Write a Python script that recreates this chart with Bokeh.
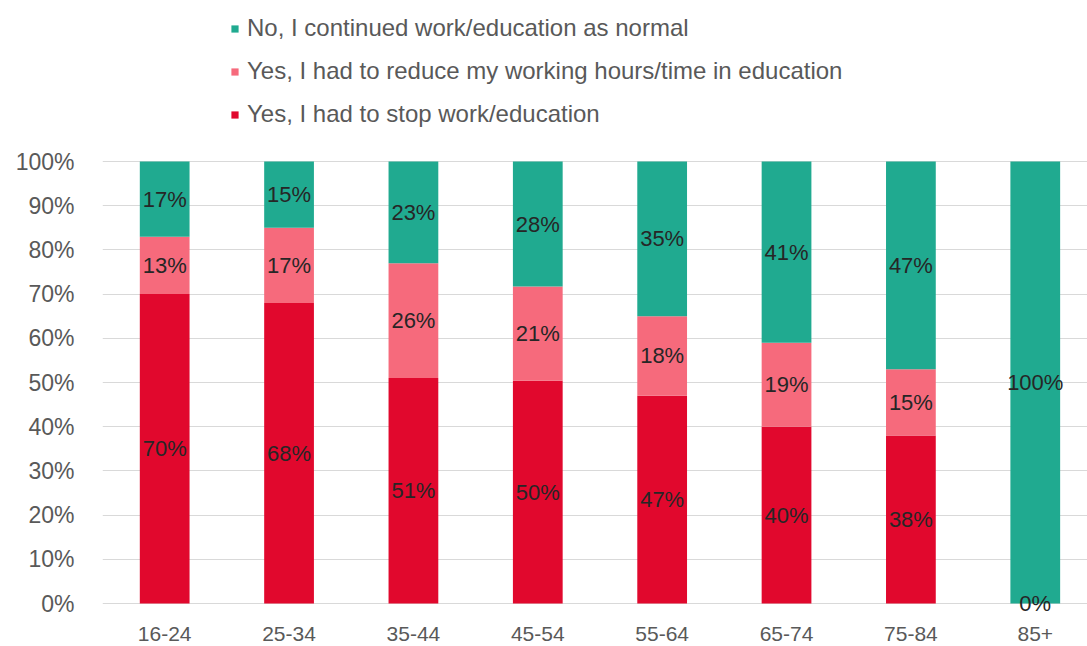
from bokeh.plotting import figure
from bokeh.models import (ColumnDataSource, Range1d, FixedTicker, Legend, LegendItem,
                          NumeralTickFormatter, LabelSet)
from bokeh.core.properties import value
from bokeh.embed import file_html
from bokeh.resources import INLINE

# Age groups and share of respondents (%) in each answer
age_groups = ["16-24", "25-34", "35-44", "45-54", "55-64", "65-74", "75-84", "85+"]
stopped = [70, 68, 51, 50.4, 47, 40, 38, 0]
reduced = [13, 17, 26, 21.3, 18, 19, 15, 0]
continued = [17, 15, 23, 28.3, 35, 41, 47, 100]

series_names = [
    "No, I continued work/education as normal",
    "Yes, I had to reduce my working hours/time in education",
    "Yes, I had to stop work/education",
]
colors = {"stop": "#e1082d", "reduce": "#f66a7c", "cont": "#20aa90"}

FONT = "Liberation Sans"
x = list(range(len(age_groups)))

s_stop = [v / 100 for v in stopped]
s_red = [v / 100 for v in reduced]
s_cont = [v / 100 for v in continued]

bot_stop = [0.0] * len(x)
top_stop = s_stop
bot_red = top_stop
top_red = [a + b for a, b in zip(bot_red, s_red)]
bot_cont = top_red
top_cont = [a + b for a, b in zip(bot_cont, s_cont)]

src = ColumnDataSource(dict(
    x=x,
    bot_stop=bot_stop, top_stop=top_stop,
    bot_red=bot_red, top_red=top_red,
    bot_cont=bot_cont, top_cont=top_cont,
))

# The frame spans nearly the full height so the legend can sit above the 100% line
# and the zero label below the baseline stays visible
PX = 442.0          # pixels per 100%
y0 = -11 / PX
y1 = y0 + 614 / PX
p = figure(width=1087, height=646, output_backend="svg", toolbar_location=None,
           x_range=Range1d(-0.5, 7.42), y_range=Range1d(y0, y1),
           min_border_left=102, min_border_right=0, min_border_top=0,
           min_border_bottom=32)
p.outline_line_color = None
p.background_fill_color = "white"
p.border_fill_color = "white"

W = 0.40
r_stop = p.vbar(x="x", bottom="bot_stop", top="top_stop", width=W, source=src,
                fill_color=colors["stop"], line_color=None)
r_red = p.vbar(x="x", bottom="bot_red", top="top_red", width=W, source=src,
               fill_color=colors["reduce"], line_color=None)
r_cont = p.vbar(x="x", bottom="bot_cont", top="top_cont", width=W, source=src,
                fill_color=colors["cont"], line_color=None)

# Value labels centred on each segment
def seg_labels(vals, bottoms, keep_zero):
    xs, ys, txt = [], [], []
    for i, (v, b) in enumerate(zip(vals, bottoms)):
        if v > 0 or keep_zero:
            xs.append(x[i])
            ys.append(b + v / 200)
            txt.append(f"{round(v)}%")
    return ColumnDataSource(dict(x=xs, y=ys, t=txt))

for vals, bottoms, keep in [(stopped, bot_stop, True), (reduced, bot_red, False),
                            (continued, bot_cont, False)]:
    ls = LabelSet(x="x", y="y", text="t", source=seg_labels(vals, bottoms, keep),
                  text_align="center", text_baseline="middle",
                  text_font=value(FONT), text_font_size="22px", text_color="#262626",
                  level="overlay")
    p.add_layout(ls)

# Axes
p.yaxis.ticker = FixedTicker(ticks=[i / 10 for i in range(11)])
p.yaxis.formatter = NumeralTickFormatter(format="0%")
p.xaxis.ticker = FixedTicker(ticks=x)
p.xaxis.major_label_overrides = {i: g for i, g in enumerate(age_groups)}
for ax in (p.xaxis, p.yaxis):
    ax.axis_line_color = None
    ax.major_tick_line_color = None
    ax.minor_tick_line_color = None
    ax.major_label_text_font = FONT
    ax.major_label_text_color = "#595959"
p.yaxis.major_label_text_font_size = "23px"
p.xaxis.major_label_text_font_size = "21px"
p.yaxis.major_label_standoff = 22
p.xaxis.major_label_standoff = 6

p.xgrid.grid_line_color = None
p.ygrid.grid_line_color = "#d9d9d9"
p.ygrid.grid_line_width = 1

legend = Legend(items=[
    LegendItem(label=series_names[0], renderers=[r_cont]),
    LegendItem(label=series_names[1], renderers=[r_red]),
    LegendItem(label=series_names[2], renderers=[r_stop]),
], location=(128, 485), orientation="vertical",
   glyph_width=9, glyph_height=9, label_text_font=FONT, label_text_font_size="24px",
   label_text_color="#595959", label_standoff=8, label_height=30, spacing=13,
   padding=0, margin=0, border_line_color=None, background_fill_alpha=0)
p.add_layout(legend, "center")

open("out.html", "w").write(file_html(p, INLINE))
